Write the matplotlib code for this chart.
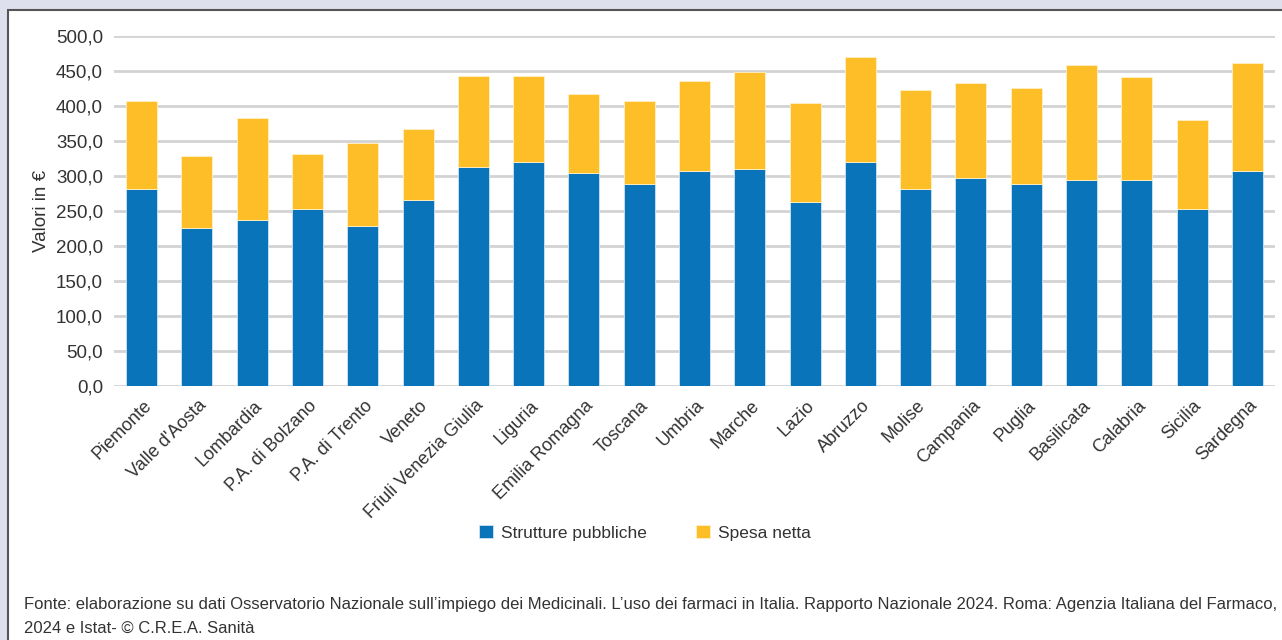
import matplotlib.pyplot as plt
from matplotlib.patches import Rectangle
import matplotlib.transforms as mtransforms

regioni = ['Piemonte', "Valle d'Aosta", 'Lombardia', 'P.A. di Bolzano', 'P.A. di Trento',
           'Veneto', 'Friuli Venezia Giulia', 'Liguria', 'Emilia Romagna', 'Toscana',
           'Umbria', 'Marche', 'Lazio', 'Abruzzo', 'Molise', 'Campania', 'Puglia',
           'Basilicata', 'Calabria', 'Sicilia', 'Sardegna']
strutture = [281.4, 225.3, 237.6, 253.3, 229.0, 265.7, 312.9, 319.5, 303.8, 288.0,
             307.1, 310.0, 262.9, 319.5, 281.9, 297.6, 288.1, 294.8, 294.8, 253.3, 307.1]
totale = [407.6, 329.0, 382.4, 331.9, 347.6, 366.7, 442.4, 442.4, 417.0, 407.6,
          435.7, 448.1, 404.3, 470.5, 423.3, 432.9, 426.2, 458.1, 441.9, 379.5, 461.0]
spesa = [t - s for t, s in zip(totale, strutture)]

plt.rcParams['font.family'] = ['Liberation Sans', 'DejaVu Sans']

blu = '#0a74ba'
giallo = '#fdbe27'
testo = '#333333'

fig = plt.figure(figsize=(12.82, 6.4), dpi=100, facecolor='#dfe0ee')
fig.patches.append(Rectangle((8/1282, -0.01), 1.0, 0.01 + 630/640, transform=fig.transFigure,
                             facecolor='white', edgecolor='#555555', lw=1.5, zorder=-5))

ax = fig.add_axes([114/1282, 1 - 386/640, (1275 - 114)/1282, 350/640])
ax.set_facecolor('none')
x = range(len(regioni))
ax.bar(x, strutture, width=0.56, color=blu, edgecolor='#cfe3f3', lw=0.6, label='Strutture pubbliche', zorder=3)
ax.bar(x, spesa, width=0.56, bottom=strutture, color=giallo, edgecolor='#fff0c8', lw=0.6,
       label='Spesa netta', zorder=3)

ax.set_xlim(-0.5, len(regioni) - 0.5)
ax.set_ylim(0, 500)
ax.set_yticks(range(0, 501, 50))
ax.set_yticklabels([f'{v},0' for v in range(0, 501, 50)], fontsize=13.5, color=testo)
ax.yaxis.grid(True, color='#d3d3d3', lw=2, zorder=0)
ax.set_axisbelow(True)
ax.tick_params(axis='both', length=0, pad=8)
ax.set_xticks(list(x))
ax.set_xticklabels(regioni, rotation=45, ha='right', va='top', rotation_mode='anchor',
                   fontsize=13, color=testo)
off = mtransforms.ScaledTranslation(1/100, 0, fig.dpi_scale_trans)
for lab in ax.get_xticklabels():
    lab.set_transform(lab.get_transform() + off)
for s in ax.spines.values():
    s.set_visible(False)
ax.set_ylabel('Valori in €', fontsize=13.5, color=testo, labelpad=4)

ax.legend(loc='center', bbox_to_anchor=(0.5 + 4/1282, 1 - 533/640), bbox_transform=fig.transFigure,
          ncol=2, frameon=False, fontsize=12.5, handlelength=0.8, handleheight=0.8,
          columnspacing=2.8, handletextpad=0.5, labelcolor=testo)

fig.text(24/1282, 1 - 605/640, "Fonte: elaborazione su dati Osservatorio Nazionale sull’impiego dei Medicinali. "
         "L’uso dei farmaci in Italia. Rapporto Nazionale 2024. Roma: Agenzia Italiana del Farmaco,",
         fontsize=12.0, color=testo, va='center')
fig.text(24/1282, 1 - 628/640, "2024 e Istat- © C.R.E.A. Sanità", fontsize=12.0, color=testo, va='center')

fig.savefig('out.png', dpi=100, facecolor=fig.get_facecolor())
